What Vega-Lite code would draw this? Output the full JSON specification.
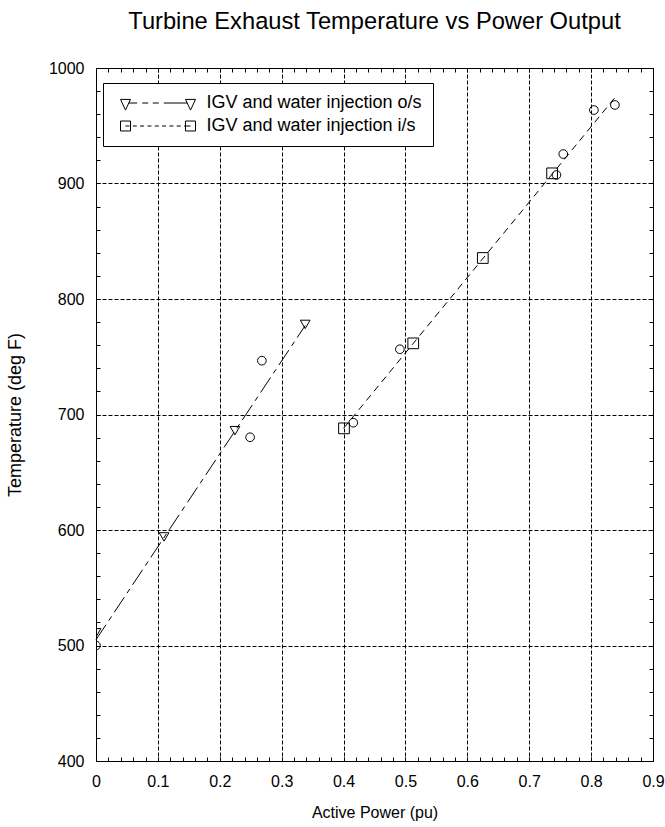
{
  "$schema": "https://vega.github.io/schema/vega-lite/v6.json",
  "width": 557,
  "height": 693,
  "autosize": {"type": "none"},
  "padding": {"left": 96, "top": 68, "right": 12, "bottom": 66},
  "background": "white",
  "config": {
    "font": "Liberation Sans",
    "view": {"stroke": "black", "strokeWidth": 1},
    "axis": {
      "domainColor": "black",
      "tickColor": "black",
      "labelColor": "black",
      "titleColor": "black",
      "labelFont": "Liberation Sans",
      "titleFont": "Liberation Sans",
      "titleFontWeight": "normal",
      "labelFontSize": 16,
      "titleFontSize": 16,
      "tickSize": -4,
      "labelOverlap": false,
      "labelFlush": false,
      "labelBound": false,
      "gridColor": "black",
      "gridDash": [4, 2],
      "gridWidth": 1,
      "gridOpacity": 1
    }
  },
  "title": {
    "text": "Turbine Exhaust Temperature vs Power Output",
    "fontSize": 23.7,
    "fontWeight": "normal",
    "font": "Liberation Sans",
    "color": "black",
    "anchor": "middle",
    "offset": 26
  },
  "datasets": {
    "markers": [
      {"series": "measured", "power": 0.0, "temp": 500},
      {"series": "measured", "power": 0.249, "temp": 680.3},
      {"series": "measured", "power": 0.268, "temp": 746.6},
      {"series": "measured", "power": 0.4157, "temp": 692.9},
      {"series": "measured", "power": 0.491, "temp": 756.5},
      {"series": "measured", "power": 0.744, "temp": 907.4},
      {"series": "measured", "power": 0.755, "temp": 925.5},
      {"series": "measured", "power": 0.8045, "temp": 963.6},
      {"series": "measured", "power": 0.8384, "temp": 968},
      {"series": "IGV and water injection o/s", "power": 0.0, "temp": 511},
      {"series": "IGV and water injection o/s", "power": 0.11, "temp": 594},
      {"series": "IGV and water injection o/s", "power": 0.2245, "temp": 686},
      {"series": "IGV and water injection o/s", "power": 0.338, "temp": 778},
      {"series": "IGV and water injection i/s", "power": 0.4007, "temp": 688},
      {"series": "IGV and water injection i/s", "power": 0.5126, "temp": 761.6},
      {"series": "IGV and water injection i/s", "power": 0.625, "temp": 835.5},
      {"series": "IGV and water injection i/s", "power": 0.737, "temp": 908.8}
    ],
    "fits": [
      {"series": "IGV and water injection o/s", "power": 0.0, "temp": 505},
      {"series": "IGV and water injection o/s", "power": 0.338, "temp": 777},
      {"series": "IGV and water injection i/s", "power": 0.4, "temp": 688},
      {"series": "IGV and water injection i/s", "power": 0.841, "temp": 976}
    ]
  },
  "layer": [
    {
      "data": {"name": "fits"},
      "mark": {"type": "line", "color": "black", "strokeWidth": 1},
      "encoding": {
        "x": {
          "field": "power",
          "type": "quantitative",
          "scale": {"domain": [0, 0.9], "nice": false, "zero": false},
          "axis": {
            "orient": "bottom",
            "title": "Active Power (pu)",
            "titlePadding": 15,
            "values": [0, 0.1, 0.2, 0.3, 0.4, 0.5, 0.6, 0.7, 0.8, 0.9],
            "labelPadding": 16,
            "labelExpr": "format(datum.value, '.1~f')",
            "grid": true
          }
        },
        "y": {
          "field": "temp",
          "type": "quantitative",
          "scale": {"domain": [400, 1000], "nice": false, "zero": false},
          "axis": {
            "orient": "left",
            "title": "Temperature (deg F)",
            "titleFontSize": 18,
            "titlePadding": 24,
            "values": [400, 500, 600, 700, 800, 900, 1000],
            "labelPadding": 16,
            "labelExpr": "format(datum.value, 'd')",
            "grid": true
          }
        },
        "strokeDash": {
          "field": "series",
          "type": "nominal",
          "scale": {
            "domain": ["IGV and water injection o/s", "IGV and water injection i/s"],
            "range": [[18, 5, 5, 5], [7, 5]]
          },
          "legend": null
        }
      }
    },
    {
      "data": {"name": "markers"},
      "mark": {"type": "point", "filled": false, "color": "black", "strokeWidth": 1, "opacity": 1, "clip": true},
      "encoding": {
        "x": {
          "field": "power",
          "type": "quantitative",
          "axis": {
            "orient": "top",
            "title": null,
            "labels": false,
            "grid": false,
            "values": [0, 0.02, 0.04, 0.06, 0.08, 0.1, 0.12, 0.14, 0.16, 0.18, 0.2, 0.22, 0.24, 0.26, 0.28, 0.3, 0.32, 0.34, 0.36, 0.38, 0.4, 0.42, 0.44, 0.46, 0.48, 0.5, 0.52, 0.54, 0.56, 0.58, 0.6, 0.62, 0.64, 0.66, 0.68, 0.7, 0.72, 0.74, 0.76, 0.78, 0.8, 0.82, 0.84, 0.86, 0.88, 0.9]
          }
        },
        "y": {
          "field": "temp",
          "type": "quantitative",
          "axis": {
            "orient": "right",
            "title": null,
            "labels": false,
            "grid": false,
            "values": [400, 420, 440, 460, 480, 500, 520, 540, 560, 580, 600, 620, 640, 660, 680, 700, 720, 740, 760, 780, 800, 820, 840, 860, 880, 900, 920, 940, 960, 980, 1000]
          }
        },
        "shape": {
          "field": "series",
          "type": "nominal",
          "scale": {
            "domain": ["measured", "IGV and water injection o/s", "IGV and water injection i/s"],
            "range": ["circle", "triangle-down", "square"]
          },
          "legend": null
        },
        "size": {
          "field": "series",
          "type": "nominal",
          "scale": {
            "domain": ["measured", "IGV and water injection o/s", "IGV and water injection i/s"],
            "range": [75, 115, 105]
          },
          "legend": null
        }
      }
    },
    {
      "data": {"name": "fits"},
      "mark": {"type": "point", "filled": false, "color": "black", "opacity": 0},
      "encoding": {
        "x": {
          "field": "power",
          "type": "quantitative",
          "axis": {
            "orient": "bottom",
            "title": null,
            "labels": false,
            "grid": false,
            "domain": false,
            "values": [0, 0.02, 0.04, 0.06, 0.08, 0.1, 0.12, 0.14, 0.16, 0.18, 0.2, 0.22, 0.24, 0.26, 0.28, 0.3, 0.32, 0.34, 0.36, 0.38, 0.4, 0.42, 0.44, 0.46, 0.48, 0.5, 0.52, 0.54, 0.56, 0.58, 0.6, 0.62, 0.64, 0.66, 0.68, 0.7, 0.72, 0.74, 0.76, 0.78, 0.8, 0.82, 0.84, 0.86, 0.88, 0.9]
          }
        },
        "y": {
          "field": "temp",
          "type": "quantitative",
          "axis": {
            "orient": "left",
            "title": null,
            "labels": false,
            "grid": false,
            "domain": false,
            "values": [400, 420, 440, 460, 480, 500, 520, 540, 560, 580, 600, 620, 640, 660, 680, 700, 720, 740, 760, 780, 800, 820, 840, 860, 880, 900, 920, 940, 960, 980, 1000]
          }
        },
        "shape": {
          "field": "series",
          "type": "nominal",
          "scale": {
            "domain": ["IGV and water injection o/s", "IGV and water injection i/s"],
            "range": [
              "M-6.25,-0.6L-4.58,-0.6L-5.42,1.18ZM4.58,-0.6L6.25,-0.6L5.42,1.18ZM-4.9,0L-3.47,0M-2.63,0L-1.63,0M-0.87,0L0.13,0M0.97,0L4.9,0",
              "M-6.25,-0.83L-4.58,-0.83L-4.58,0.83L-6.25,0.83ZM4.58,-0.83L6.25,-0.83L6.25,0.83L4.58,0.83ZM-5.42,0L-4.75,0M-4.2,0L-3.53,0M-2.98,0L-2.31,0M-1.76,0L-1.09,0M-0.54,0L0.13,0M0.68,0L1.35,0M1.9,0L2.57,0M3.12,0L3.79,0M4.34,0L5.42,0"
            ]
          },
          "legend": {
            "title": null,
            "orient": "none",
            "legendX": 7,
            "legendY": 15,
            "strokeColor": "black",
            "fillColor": "white",
            "cornerRadius": 0,
            "padding": 11,
            "rowPadding": 4,
            "symbolSize": 144,
            "symbolOffset": 35,
            "symbolOpacity": 1,
            "symbolStrokeColor": "black",
            "symbolStrokeWidth": 1,
            "symbolFillColor": "transparent",
            "labelOffset": 39.5,
            "labelFont": "Liberation Sans",
            "labelFontSize": 18,
            "labelColor": "black",
            "labelLimit": 400
          }
        }
      }
    }
  ],
  "resolve": {
    "scale": {"shape": "independent", "size": "independent", "strokeDash": "independent"},
    "axis": {"x": "independent", "y": "independent"}
  }
}
